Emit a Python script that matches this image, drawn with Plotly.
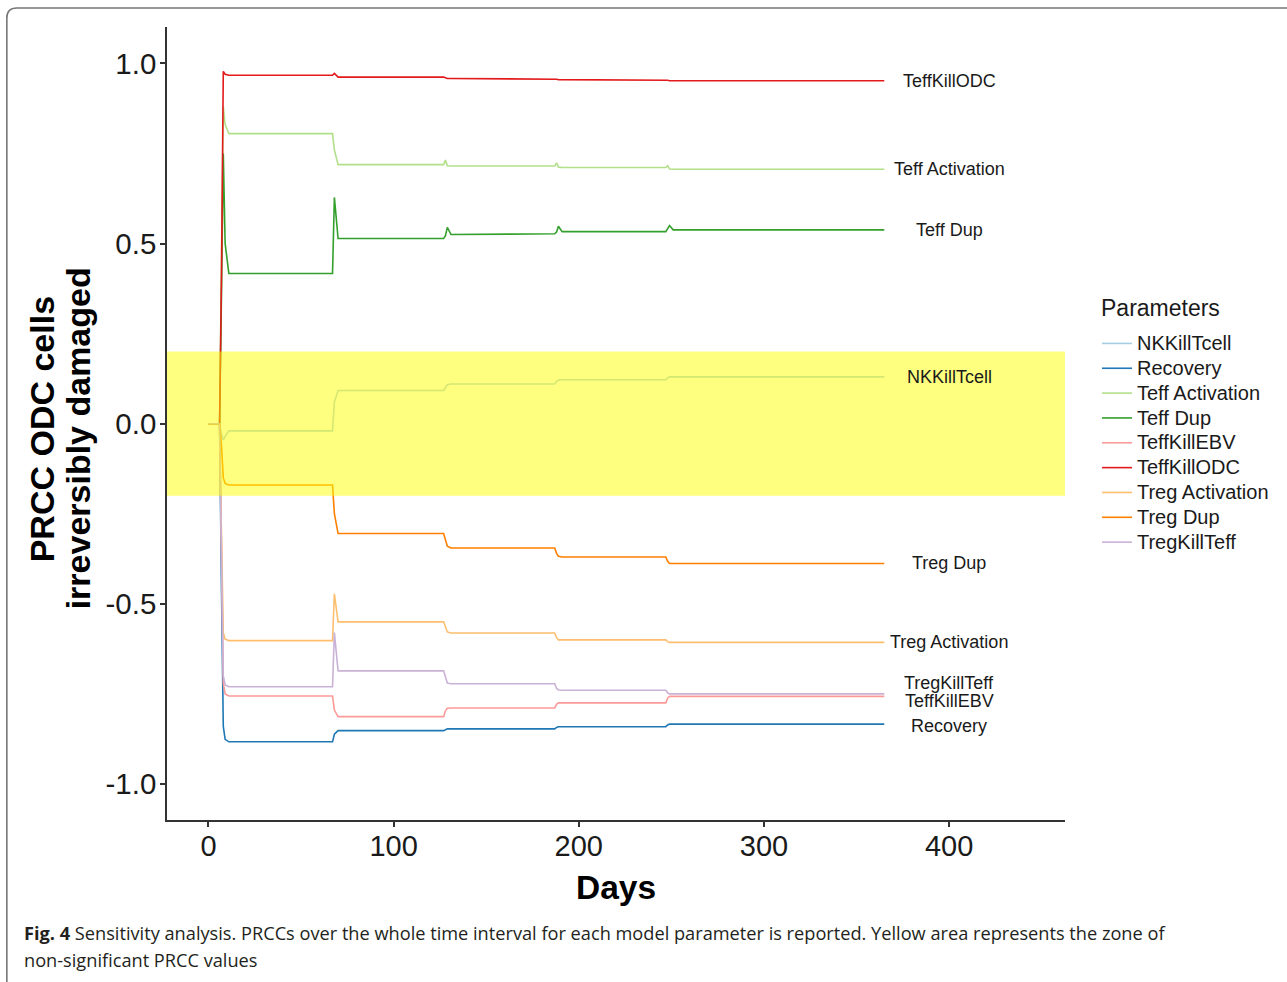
import plotly.graph_objects as go

# ---------------- data ----------------
days = [0, 6, 7, 8, 9, 11, 66, 67, 68, 70, 127, 128, 129, 131,
        187, 188, 189, 191, 247, 248, 249, 251, 365]

parameters = ["NKKillTcell", "Recovery", "Teff Activation", "Teff Dup",
              "TeffKillEBV", "TeffKillODC", "Treg Activation", "Treg Dup",
              "TregKillTeff"]

nk_kill_tcell = [0, 0, -0.03, -0.045, -0.035, -0.02, -0.02, -0.02, 0.06, 0.092, 0.092, 0.1,
                 0.108, 0.11, 0.11, 0.117, 0.121, 0.122, 0.122, 0.127, 0.13, 0.13, 0.13]
recovery = [0, 0, -0.45, -0.84, -0.876, -0.883, -0.883, -0.883, -0.862, -0.852, -0.852, -0.849,
            -0.847, -0.847, -0.847, -0.843, -0.841, -0.841, -0.841, -0.836, -0.834, -0.834, -0.834]
teff_activation = [0, 0, 0.45, 0.88, 0.83, 0.805, 0.805, 0.805, 0.76, 0.719, 0.719, 0.732,
                   0.716, 0.715, 0.715, 0.724, 0.712, 0.711, 0.711, 0.716, 0.707, 0.706, 0.706]
teff_dup = [0, 0, 0.35, 0.75, 0.5, 0.417, 0.417, 0.417, 0.628, 0.514, 0.514, 0.522,
            0.545, 0.525, 0.527, 0.532, 0.548, 0.533, 0.533, 0.54, 0.55, 0.538, 0.538]
teff_kill_ebv = [0, 0, -0.35, -0.72, -0.75, -0.756, -0.756, -0.756, -0.795, -0.813, -0.813, -0.797,
                 -0.79, -0.789, -0.789, -0.779, -0.775, -0.775, -0.775, -0.762, -0.757, -0.757, -0.757]
teff_kill_odc = [0, 0, 0.4, 0.978, 0.97, 0.967, 0.967, 0.967, 0.972, 0.962, 0.962, 0.96,
                 0.958, 0.958, 0.958, 0.956, 0.955, 0.955, 0.955, 0.953, 0.952, 0.952, 0.952]
treg_activation = [0, 0, -0.3, -0.58, -0.598, -0.602, -0.602, -0.602, -0.472, -0.55, -0.55, -0.566,
                   -0.578, -0.581, -0.581, -0.594, -0.6, -0.6, -0.6, -0.605, -0.607, -0.607, -0.607]
treg_dup = [0, 0, -0.06, -0.15, -0.166, -0.17, -0.17, -0.17, -0.25, -0.305, -0.305, -0.322,
            -0.34, -0.345, -0.345, -0.36, -0.368, -0.37, -0.37, -0.382, -0.388, -0.388, -0.388]
treg_kill_teff = [0, 0, -0.35, -0.7, -0.725, -0.73, -0.73, -0.73, -0.58, -0.686, -0.686, -0.705,
                  -0.72, -0.722, -0.722, -0.735, -0.739, -0.74, -0.74, -0.747, -0.75, -0.75, -0.75]

series = [nk_kill_tcell, recovery, teff_activation, teff_dup, teff_kill_ebv,
          teff_kill_odc, treg_activation, treg_dup, treg_kill_teff]

colors = ["#a6cee3", "#1f78b4", "#b2df8a", "#33a02c", "#fb9a99",
          "#e31a1c", "#fdbf6f", "#ff7f00", "#cab2d6"]

x_ticks = [0, 100, 200, 300, 400]
y_ticks = [-1.0, -0.5, 0.0, 0.5, 1.0]
y_tick_text = ["-1.0", "-0.5", "0.0", "0.5", "1.0"]

label_day = 400
label_nudge = {"TregKillTeff": 0.031, "TeffKillEBV": -0.012, "Recovery": -0.005}

nonsig_low, nonsig_high = -0.2, 0.2

legend_title = "Parameters"
caption_bold = "Fig. 4"
caption_line1 = (" Sensitivity analysis. PRCCs over the whole time interval for each model "
                 "parameter is reported. Yellow area represents the zone of")
caption_line2 = "non-significant PRCC values"

# ---------------- layout geometry (pixels) ----------------
W, H = 1287, 982
L, R, T, B = 166.7, 1065, 27, 820
pw, ph = R - L, B - T


def px(x):
    return (x - L) / pw


def py(y):
    return (B - y) / ph


FONT = "Liberation Sans, Arial, Helvetica, sans-serif"
LEG_SPACING_FONT = 16.8   # sets legend row pitch
LEG_TEXT_SIZE = 20        # visible legend text size
LEG_TITLE_SIZE = 23       # legend title size

fig = go.Figure()
for name, vals, col in zip(parameters, series, colors):
    fig.add_trace(go.Scatter(
        x=days, y=vals, mode="lines",
        name=f'<span style="font-size:{LEG_TEXT_SIZE}px">{name}</span>',
        hovertemplate=f"{name}<br>Day %{{x}}<br>PRCC %{{y}}<extra></extra>",
        line=dict(color=col, width=1.6)))

annotations = []
for name, vals in zip(parameters, series):
    annotations.append(dict(x=label_day, y=vals[-1] + label_nudge.get(name, 0),
                            xref="x", yref="y", text=name, showarrow=False,
                            xanchor="center", yanchor="middle",
                            font=dict(family=FONT, size=18, color="#1a1a1a")))

# legend title
annotations.append(dict(x=px(1099), y=py(308), xref="paper", yref="paper",
                        text=legend_title, showarrow=False, xanchor="left", yanchor="middle",
                        font=dict(family=FONT, size=LEG_TITLE_SIZE, color="#1a1a1a")))
# y-axis title (two lines placed individually)
annotations.append(dict(x=px(42), y=py(429), xref="paper", yref="paper",
                        text="<b>PRCC ODC cells</b>",
                        textangle=-90, showarrow=False, xanchor="center", yanchor="middle",
                        font=dict(family=FONT, size=34, color="#000000")))
annotations.append(dict(x=px(78), y=py(438), xref="paper", yref="paper",
                        text="<b>irreversibly damaged</b>",
                        textangle=-90, showarrow=False, xanchor="center", yanchor="middle",
                        font=dict(family=FONT, size=34, color="#000000")))
# x-axis title
annotations.append(dict(x=px(616), y=py(887), xref="paper", yref="paper",
                        text="<b>Days</b>", showarrow=False, xanchor="center",
                        yanchor="middle", font=dict(family=FONT, size=33.5, color="#000000")))
# caption
CAP_FONT = "Open Sans, Noto Sans, sans-serif"
annotations.append(dict(x=px(22), y=py(933), xref="paper", yref="paper",
                        text="<b>" + caption_bold + "</b>" + caption_line1, showarrow=False,
                        xanchor="left", yanchor="middle",
                        font=dict(family=CAP_FONT, size=18.2, color="#231f20")))
annotations.append(dict(x=px(22), y=py(960), xref="paper", yref="paper",
                        text=caption_line2, showarrow=False,
                        xanchor="left", yanchor="middle",
                        font=dict(family=CAP_FONT, size=18.2, color="#231f20")))

shapes = [
    dict(type="rect", xref="paper", yref="y", x0=0, x1=1, y0=nonsig_low, y1=nonsig_high,
         fillcolor="rgba(255,255,0,0.5)", line=dict(width=0), layer="above"),
    dict(type="path", xref="paper", yref="paper",
         path=(f"M {px(6.5)},{py(990)} L {px(6.5)},{py(18)} "
               f"Q {px(6.5)},{py(8)} {px(16.5)},{py(8)} L {px(1300)},{py(8)}"),
         line=dict(color="#777777", width=1.6)),
]

fig.update_layout(
    width=W, height=H,
    margin=dict(l=L, r=W - R, t=T, b=H - B, pad=0),
    paper_bgcolor="white", plot_bgcolor="white",
    font=dict(family=FONT, color="#1a1a1a"),
    showlegend=True,
    legend=dict(font=dict(family=FONT, size=LEG_SPACING_FONT, color="#1a1a1a"),
                x=px(1097), y=py(326), xanchor="left", yanchor="top",
                bgcolor="rgba(0,0,0,0)", borderwidth=0, tracegroupgap=0),
    xaxis=dict(range=[-22.4, 462.6], tickvals=x_ticks, ticktext=[str(v) for v in x_ticks],
               showgrid=False, zeroline=False, showline=True, linecolor="#333333",
               linewidth=1.5, ticks="outside", ticklen=5, tickwidth=1.5, tickcolor="#333333",
               ticklabelstandoff=-6,
               tickfont=dict(family=FONT, size=29, color="#1a1a1a")),
    yaxis=dict(range=[-1.1, 1.101], tickvals=y_ticks, ticktext=y_tick_text,
               showgrid=False, zeroline=False, showline=True, linecolor="#333333",
               linewidth=1.5, ticks="outside", ticklen=5, tickwidth=1.5, tickcolor="#333333",
               ticklabelstandoff=-2,
               tickfont=dict(family=FONT, size=29.5, color="#1a1a1a")),
    annotations=annotations,
    shapes=shapes,
)

fig.write_html("out.html")
